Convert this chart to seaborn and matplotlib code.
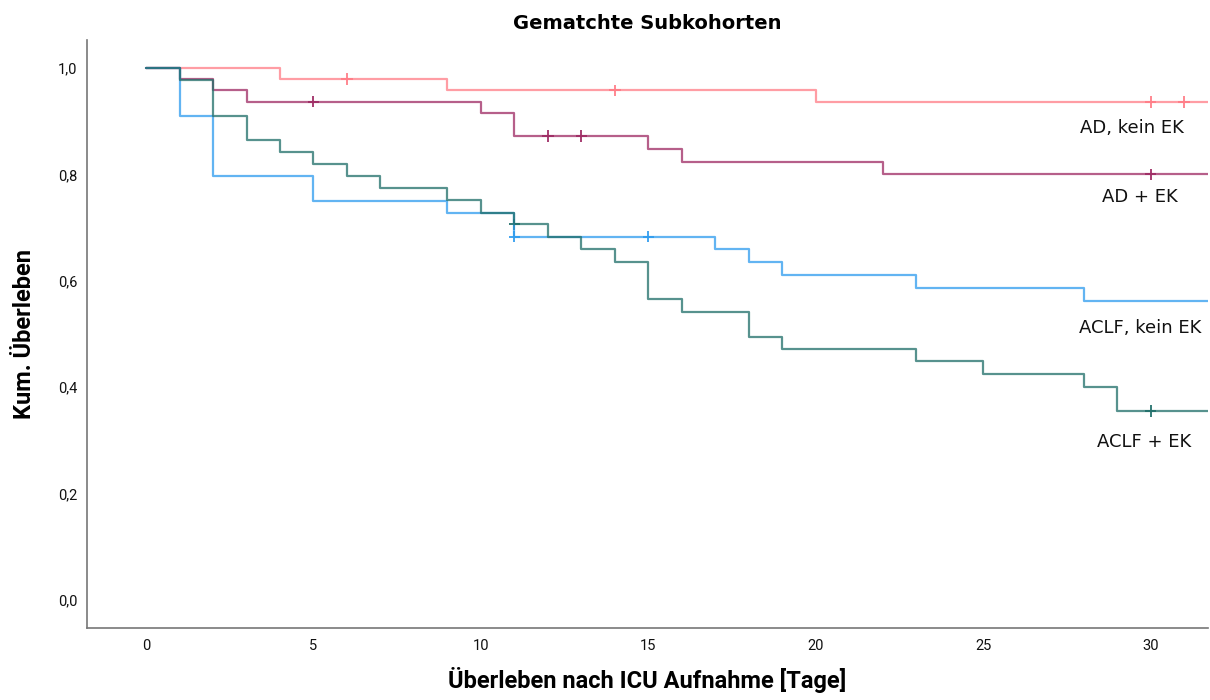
import numpy as np
import pandas as pd
import matplotlib
matplotlib.use("Agg")
import matplotlib.pyplot as plt
from matplotlib.ticker import FuncFormatter
import seaborn as sns

# ---- data ----
groups = ["AD, kein EK", "AD + EK", "ACLF, kein EK", "ACLF + EK"]

ad_kein_t = [0, 4, 9, 20]
ad_kein_s = [1.0, 0.979, 0.958, 0.936]
ad_kein_cens = [6, 14, 30, 31]

ad_ek_t = [0, 1, 2, 3, 10, 11, 15, 16, 22]
ad_ek_s = [1.0, 0.979, 0.958, 0.937, 0.915, 0.872, 0.848, 0.824, 0.800]
ad_ek_cens = [5, 12, 13, 30]

aclf_kein_t = [0, 1, 2, 5, 9, 11, 17, 18, 19, 23, 28]
aclf_kein_s = [1.0, 0.909, 0.797, 0.750, 0.728, 0.683, 0.659, 0.635, 0.610, 0.586, 0.561]
aclf_kein_cens = [11, 15]

aclf_ek_t = [0, 1, 2, 3, 4, 5, 6, 7, 9, 10, 11, 12, 13, 14, 15, 16, 18, 19, 23, 25, 28, 29]
aclf_ek_s = [1.0, 0.978, 0.909, 0.865, 0.842, 0.819, 0.797, 0.774, 0.751, 0.728, 0.706,
             0.683, 0.659, 0.636, 0.566, 0.542, 0.495, 0.472, 0.449, 0.425, 0.401, 0.355]
aclf_ek_cens = [11, 30]

series = {
    "AD, kein EK": (ad_kein_t, ad_kein_s, ad_kein_cens),
    "AD + EK": (ad_ek_t, ad_ek_s, ad_ek_cens),
    "ACLF, kein EK": (aclf_kein_t, aclf_kein_s, aclf_kein_cens),
    "ACLF + EK": (aclf_ek_t, aclf_ek_s, aclf_ek_cens),
}

x_ticks = [0, 5, 10, 15, 20, 25, 30]
y_ticks = [0.0, 0.2, 0.4, 0.6, 0.8, 1.0]
X_MAX = 31.7

colors = {
    "AD, kein EK": "#FF7C86",
    "AD + EK": "#9E2A63",
    "ACLF, kein EK": "#2E9BEE",
    "ACLF + EK": "#1F6E69",
}

# ---- build long-form frames ----
rows, crows = [], []
for g, (t, s, c) in series.items():
    tt = list(t) + [X_MAX]
    ss = list(s) + [s[-1]]
    for a, b in zip(tt, ss):
        rows.append({"Tage": a, "Surv": b, "Gruppe": g})
    t_arr = np.array(t)
    s_arr = np.array(s)
    for ct in c:
        idx = np.searchsorted(t_arr, ct, side="right") - 1
        crows.append({"Tage": ct, "Surv": s_arr[idx], "Gruppe": g})
df = pd.DataFrame(rows)
cdf = pd.DataFrame(crows)

sns.set_theme(style="white")
plt.rcParams["font.family"] = ["DejaVu Sans"]
plt.rcParams["text.color"] = "black"

fig = plt.figure(figsize=(12.1, 7.0), dpi=100)
ax = fig.add_axes([0.072, 0.103, 0.926, 0.840])

sns.lineplot(data=df, x="Tage", y="Surv", hue="Gruppe", hue_order=groups,
             palette=colors, drawstyle="steps-post", estimator=None,
             linewidth=1.6, alpha=0.75, legend=False, ax=ax)
sns.scatterplot(data=cdf, x="Tage", y="Surv", hue="Gruppe", hue_order=groups,
                palette=colors, marker="+", s=70, linewidth=1.4, alpha=0.9,
                legend=False, ax=ax)

ax.set_xlim(-1.76, X_MAX)
ax.set_ylim(-0.053, 1.053)
ax.set_xticks(x_ticks)
ax.set_yticks(y_ticks)
ax.yaxis.set_major_formatter(FuncFormatter(lambda v, p: f"{v:.1f}".replace(".", ",")))
ax.tick_params(axis="both", length=0, labelsize=10.5, colors="#111111")
ax.tick_params(axis="x", pad=8)
ax.tick_params(axis="y", pad=7)
for lab in ax.get_xticklabels() + ax.get_yticklabels():
    lab.set_family(["Roboto", "DejaVu Sans"])

for side in ["top", "right"]:
    ax.spines[side].set_visible(False)
for side in ["left", "bottom"]:
    ax.spines[side].set_color("#777777")
    ax.spines[side].set_linewidth(1.2)

ax.set_xlabel("Überleben nach ICU Aufnahme [Tage]", fontsize=17, fontweight="bold",
              labelpad=10, family=["Roboto", "DejaVu Sans"], color="black")
ax.set_ylabel("Kum. Überleben", fontsize=17, fontweight="bold", labelpad=16,
              family=["Roboto", "DejaVu Sans"], color="black")
ax.set_title("Gematchte Subkohorten", fontsize=14, fontweight="bold", pad=8,
             color="black")

labels_pos = {
    "AD, kein EK": (31.0, 0.887),
    "AD + EK": (30.8, 0.758),
    "ACLF, kein EK": (31.5, 0.511),
    "ACLF + EK": (31.2, 0.297),
}
for g, (lx, ly) in labels_pos.items():
    ax.text(lx, ly, g, ha="right", va="center", fontsize=13, color="#111111")

fig.savefig("out.png", dpi=100)
